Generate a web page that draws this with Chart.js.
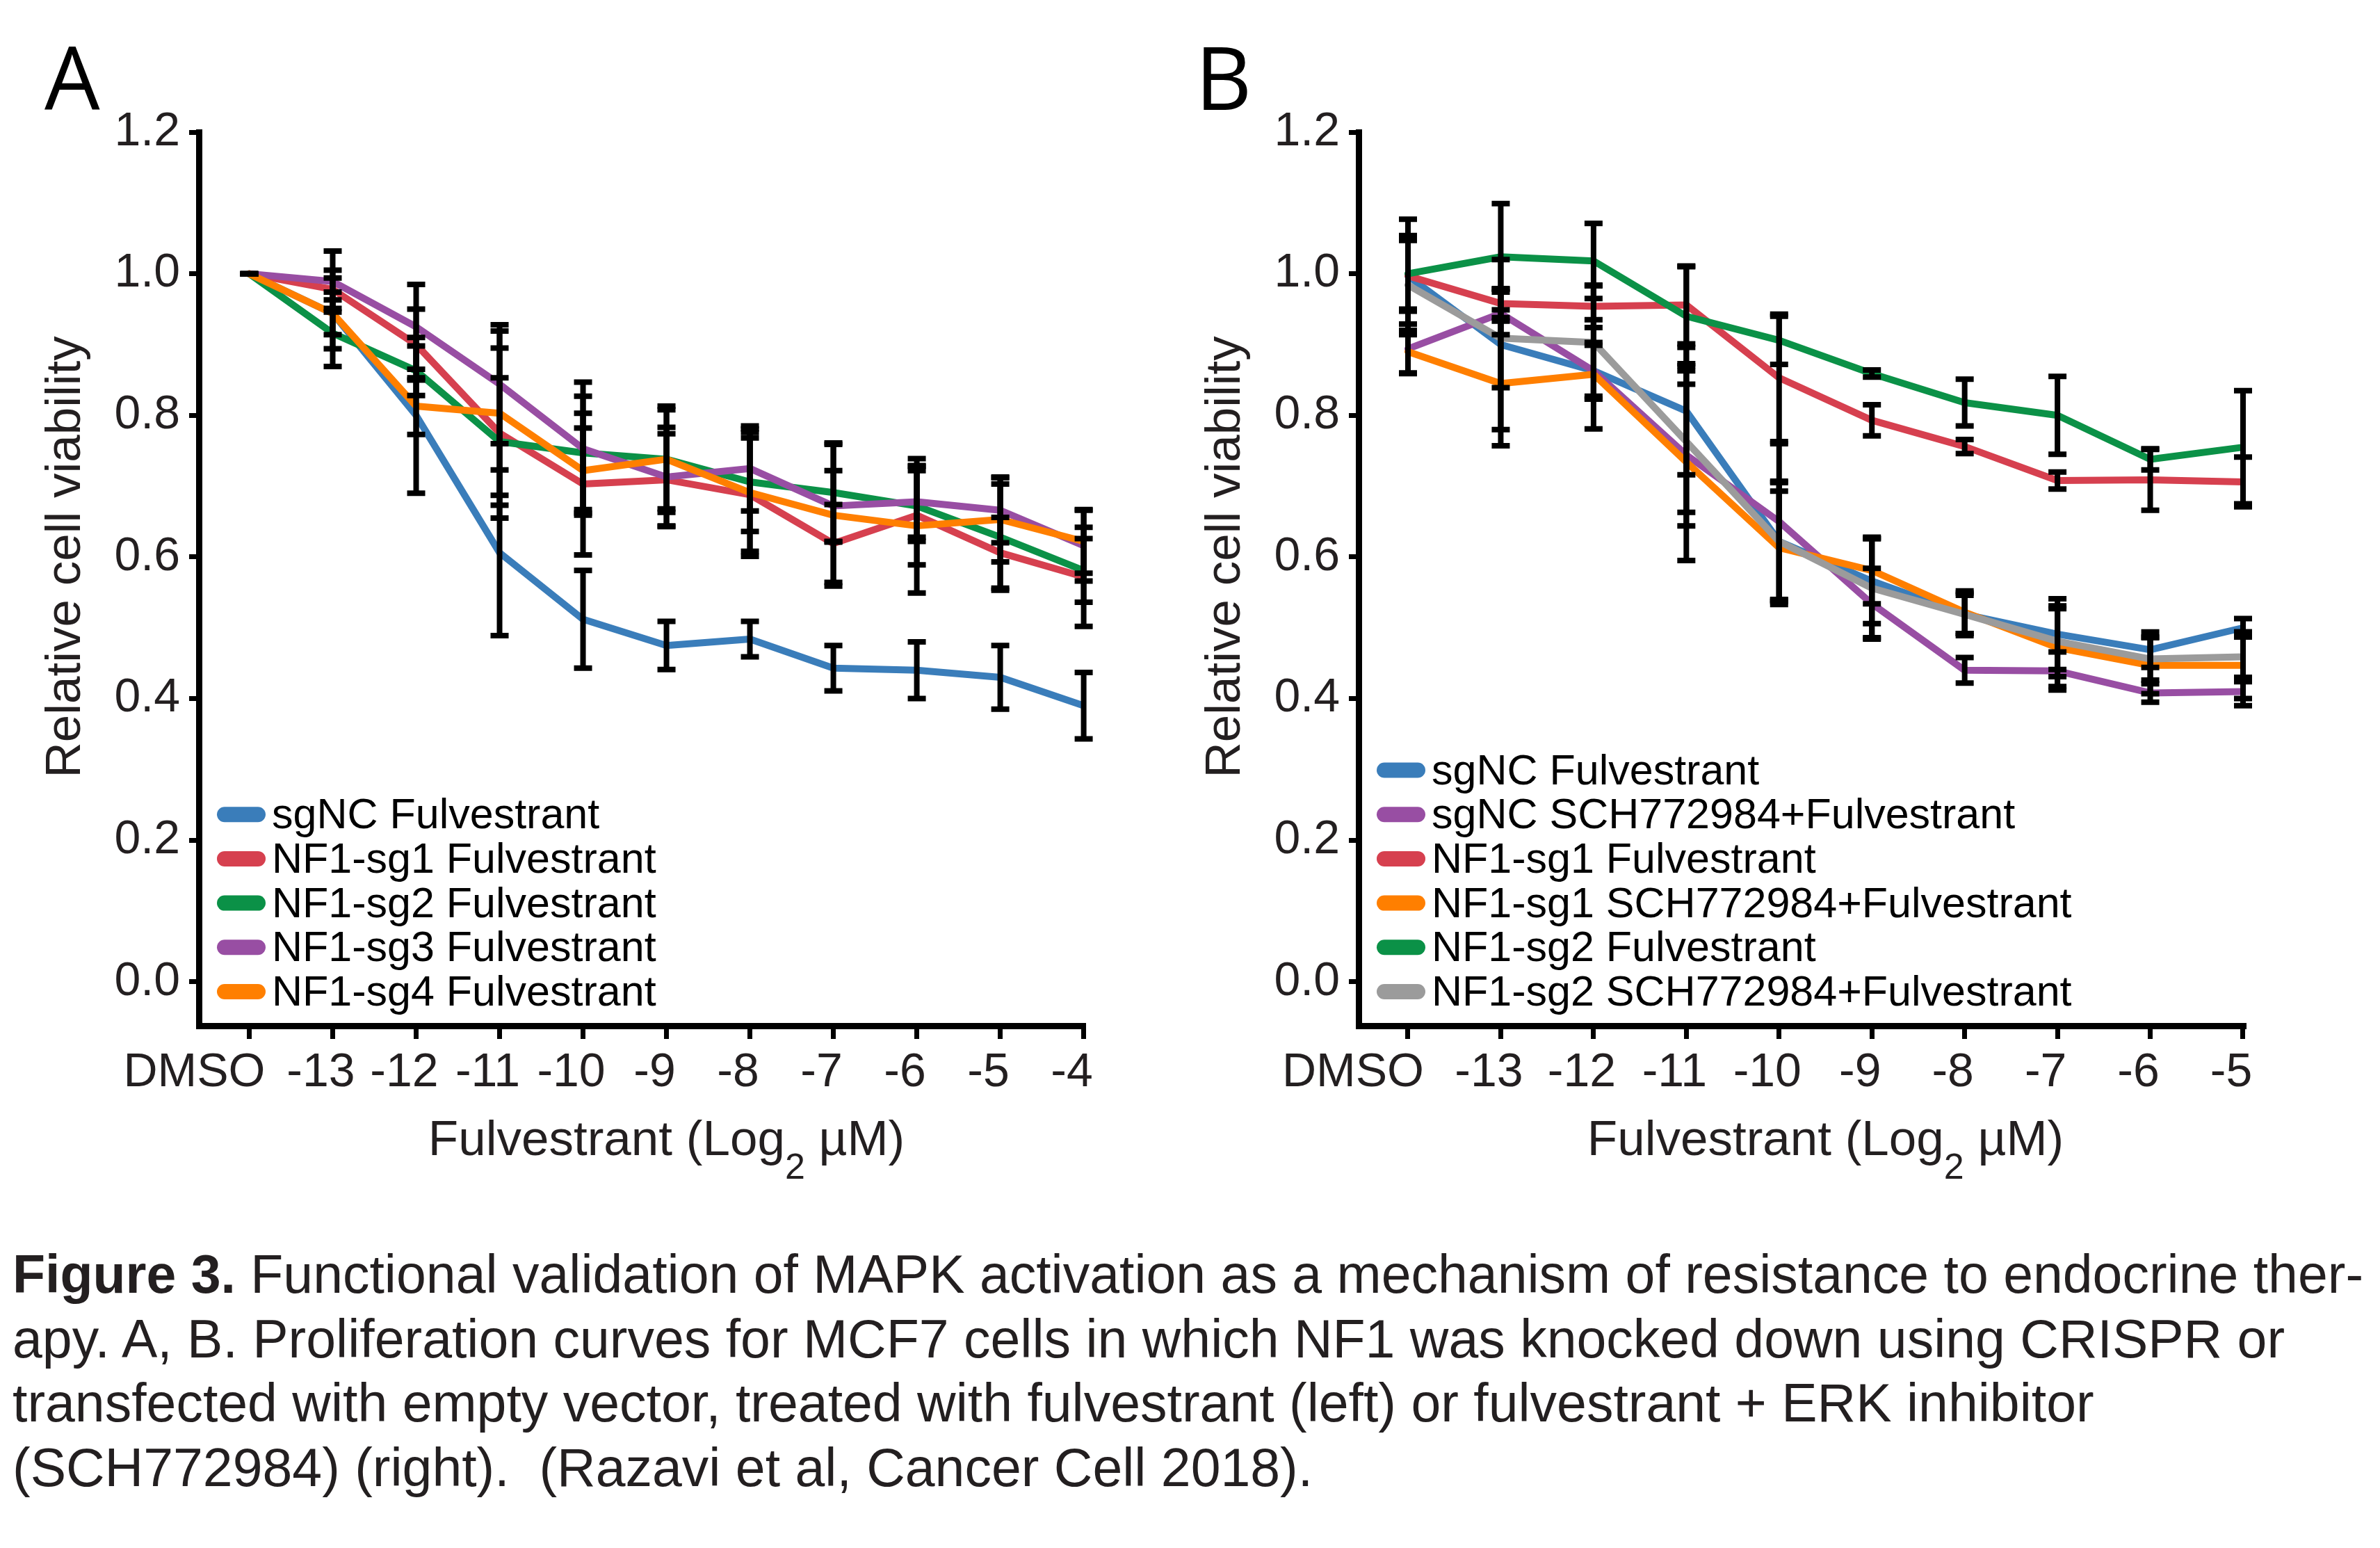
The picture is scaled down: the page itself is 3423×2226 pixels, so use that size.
<!DOCTYPE html>
<html><head><meta charset="utf-8">
<script src="https://cdn.jsdelivr.net/npm/chart.js@4.4.1/dist/chart.umd.min.js"></script>
<style>
html,body{margin:0;padding:0;background:#fff;}
body{width:3423px;height:2226px;position:relative;overflow:hidden;}
#wrapA{position:absolute;left:0;top:0;width:1700px;height:1750px;}
#wrapB{position:absolute;left:1700px;top:0;width:1723px;height:1750px;}
#caption{position:absolute;left:18px;top:1786px;font-family:"Liberation Sans",Arial,sans-serif;font-size:77px;line-height:92.5px;color:#231f20;white-space:nowrap;}
</style></head><body>
<div id="wrapA"><canvas id="chartA" width="1700" height="1750"></canvas></div>
<div id="wrapB"><canvas id="chartB" width="1723" height="1750"></canvas></div>
<div id="caption"><b>Figure 3.</b> Functional validation of MAPK activation as a mechanism of resistance to endocrine ther-<br>apy. A, B. Proliferation curves for MCF7 cells in which NF1 was knocked down using CRISPR or<br>transfected with empty vector, treated with fulvestrant (left) or fulvestrant + ERK inhibitor<br>(SCH772984) (right).&nbsp; (Razavi et al, Cancer Cell 2018).</div>
<script>
// ---------- DATA ----------
const concA = ['DMSO','-13','-12','-11','-10','-9','-8','-7','-6','-5','-4'];
const concB = ['DMSO','-13','-12','-11','-10','-9','-8','-7','-6','-5'];
const yTickValues = [0, 0.2, 0.4, 0.6, 0.8, 1.0, 1.2];

// Panel A
const labelsA = ['sgNC Fulvestrant','NF1-sg1 Fulvestrant','NF1-sg2 Fulvestrant','NF1-sg3 Fulvestrant','NF1-sg4 Fulvestrant'];
const a_sgNC     = [1.0, 0.944, 0.800, 0.606, 0.512, 0.475, 0.484, 0.443, 0.440, 0.430, 0.390];
const a_sgNC_err = [0, 0.030, 0.110, 0.117, 0.069, 0.034, 0.025, 0.032, 0.040, 0.045, 0.047];
const a_sg1      = [1.0, 0.978, 0.900, 0.775, 0.703, 0.709, 0.688, 0.619, 0.659, 0.606, 0.572];
const a_sg1_err  = [0, 0.027, 0.050, 0.120, 0.100, 0.065, 0.080, 0.055, 0.070, 0.050, 0.070];
const a_sg2      = [1.0, 0.916, 0.863, 0.763, 0.747, 0.738, 0.706, 0.691, 0.672, 0.628, 0.581];
const a_sg2_err  = [0, 0.047, 0.035, 0.090, 0.080, 0.075, 0.070, 0.070, 0.050, 0.075, 0.045];
const a_sg3      = [1.0, 0.989, 0.925, 0.844, 0.753, 0.713, 0.725, 0.672, 0.678, 0.666, 0.616];
const a_sg3_err  = [0, 0.043, 0.060, 0.084, 0.094, 0.070, 0.060, 0.050, 0.050, 0.046, 0.050];
const a_sg4      = [1.0, 0.944, 0.813, 0.803, 0.722, 0.738, 0.691, 0.659, 0.644, 0.653, 0.622];
const a_sg4_err  = [0, 0.050, 0.040, 0.116, 0.060, 0.070, 0.090, 0.100, 0.095, 0.060, 0.045];

// Panel B
const labelsB = ['sgNC Fulvestrant','sgNC SCH772984+Fulvestrant','NF1-sg1 Fulvestrant','NF1-sg1 SCH772984+Fulvestrant','NF1-sg2 Fulvestrant','NF1-sg2 SCH772984+Fulvestrant'];
const b_sgNC         = [0.997, 0.900, 0.863, 0.806, 0.622, 0.566, 0.519, 0.491, 0.469, 0.500];
const b_sgNC_err     = [0.050, 0.120, 0.040, 0.090, 0.085, 0.060, 0.027, 0.050, 0.025, 0.013];
const b_sgNC_SCH     = [0.894, 0.944, 0.863, 0.744, 0.650, 0.534, 0.440, 0.439, 0.408, 0.410];
const b_sgNC_SCH_err = [0.035, 0.030, 0.036, 0.100, 0.110, 0.050, 0.018, 0.027, 0.013, 0.020];
const b_sg1          = [0.997, 0.958, 0.954, 0.956, 0.853, 0.793, 0.756, 0.708, 0.709, 0.706];
const b_sg1_err      = [0.080, 0.020, 0.030, 0.055, 0.090, 0.022, 0.010, 0.012, 0.043, 0.035];
const b_sg1_SCH      = [0.890, 0.845, 0.858, 0.734, 0.613, 0.581, 0.522, 0.472, 0.447, 0.447];
const b_sg1_SCH_err  = [0.030, 0.088, 0.077, 0.139, 0.080, 0.047, 0.030, 0.055, 0.040, 0.047];
const b_sg2          = [1.000, 1.024, 1.018, 0.940, 0.906, 0.859, 0.818, 0.800, 0.738, 0.755];
const b_sg2_err      = [0.050, 0.075, 0.053, 0.070, 0.034, 0.005, 0.033, 0.055, 0.015, 0.080];
const b_sg2_SCH      = [0.984, 0.909, 0.903, 0.763, 0.622, 0.556, 0.519, 0.481, 0.456, 0.459];
const b_sg2_SCH_err  = [0.070, 0.070, 0.080, 0.100, 0.083, 0.070, 0.030, 0.050, 0.030, 0.035];

// ---------- STYLE ----------
const FONT = '"Liberation Sans", Arial, sans-serif';
const INK = '#231f20';
const C = { blue:'#3a7dba', red:'#d6404f', green:'#0b9147', purple:'#984ea3', orange:'#ff7f00', gray:'#9b9b9b' };

function mkDatasets(labels, vals, errs, colors) {
  const n = labels.length;
  return labels.map((lab, k) => ({
    label: lab,
    data: vals[k].map((v, i) => ({ x: i, y: v })),
    errs: errs[k],
    borderColor: colors[k],
    backgroundColor: colors[k],
    borderWidth: 10,
    borderJoinStyle: 'round',
    borderCapStyle: 'round',
    pointRadius: 0,
    tension: 0,
    order: n - k
  }));
}

function figurePlugin(p) {
  return {
    id: 'fig' + p.letter,
    afterDatasetsDraw(chart) {
      const xs = chart.scales.x, ys = chart.scales.y, ctx = chart.ctx;
      ctx.save();
      ctx.strokeStyle = '#000';
      ctx.lineWidth = 8;
      ctx.lineCap = 'butt';
      chart.data.datasets.forEach(ds => {
        ds.data.forEach((pt, i) => {
          const e = ds.errs[i];
          const x = xs.getPixelForValue(pt.x);
          const yt = ys.getPixelForValue(pt.y + e), yb = ys.getPixelForValue(pt.y - e);
          ctx.beginPath();
          if (e > 0) { ctx.moveTo(x, yt - 4); ctx.lineTo(x, yb + 4); }
          ctx.moveTo(x - 13, yt); ctx.lineTo(x + 13, yt);
          ctx.moveTo(x - 13, yb); ctx.lineTo(x + 13, yb);
          ctx.stroke();
        });
      });
      ctx.restore();
    },
    afterDraw(chart) {
      const xs = chart.scales.x, ys = chart.scales.y, ctx = chart.ctx, ca = chart.chartArea;
      ctx.save();
      ctx.fillStyle = INK;
      ctx.textBaseline = 'alphabetic';
      // x tick labels
      ctx.font = '68px ' + FONT;
      ctx.textAlign = 'center';
      p.cats.forEach((c, i) => {
        ctx.fillText(c, xs.getPixelForValue(i) + (i === 0 ? -79 : -17), ca.bottom + 87);
      });
      // x title with subscript
      const cx = (xs.getPixelForValue(0) + xs.getPixelForValue(p.cats.length - 1)) / 2;
      const t1 = 'Fulvestrant (Log', t2 = '2', t3 = ' \u00B5M)';
      ctx.font = '71px ' + FONT;
      const w1 = ctx.measureText(t1).width, w3 = ctx.measureText(t3).width;
      ctx.font = '52px ' + FONT;
      const w2 = ctx.measureText(t2).width;
      let sx = cx - (w1 + w2 + w3) / 2;
      const by = ca.bottom + 186;
      ctx.textAlign = 'left';
      ctx.font = '71px ' + FONT; ctx.fillText(t1, sx, by); sx += w1;
      ctx.font = '52px ' + FONT; ctx.fillText(t2, sx, by + 34); sx += w2;
      ctx.font = '71px ' + FONT; ctx.fillText(t3, sx, by);
      // y title
      const cy = (ys.getPixelForValue(0) + ys.getPixelForValue(1.2)) / 2;
      ctx.save();
      ctx.translate(ca.left - 171, cy);
      ctx.rotate(-Math.PI / 2);
      ctx.textAlign = 'center';
      ctx.font = '71px ' + FONT;
      ctx.fillText('Relative cell viability', 0, 0);
      ctx.restore();
      // legend
      const dsets = chart.data.datasets, n = dsets.length;
      ctx.font = '61px ' + FONT;
      ctx.textAlign = 'left';
      dsets.forEach((ds, k) => {
        const yc = ca.bottom - 49 - (n - 1 - k) * 63.7;
        const x0 = ca.left + 26;
        ctx.fillStyle = ds.borderColor;
        ctx.beginPath();
        ctx.roundRect(x0, yc - 11, 70, 22, 11);
        ctx.fill();
        ctx.fillStyle = '#000';
        ctx.fillText(ds.label, ca.left + 105, yc + 20);
      });
      // panel letter
      ctx.fillStyle = '#000';
      ctx.font = '126px "Open Sans", ' + FONT;
      ctx.fillText(p.letter, p.letterX, 158);
      ctx.restore();
    }
  };
}

function makeChart(id, p) {
  return new Chart(document.getElementById(id), {
    type: 'line',
    data: { datasets: p.datasets },
    options: {
      responsive: false,
      animation: false,
      devicePixelRatio: 1,
      layout: { padding: { left: 0, top: 190, right: p.padRight, bottom: 0 } },
      plugins: { legend: { display: false }, tooltip: { enabled: false }, title: { display: false } },
      scales: {
        x: {
          type: 'linear', min: p.xMin, max: p.xMax,
          afterBuildTicks: s => { s.ticks = p.cats.map((_, i) => ({ value: i })); },
          afterFit: s => { s.height = 275; },
          ticks: { display: false, autoSkip: false },
          grid: { display: true, drawOnChartArea: false, drawTicks: true, tickLength: 19, tickWidth: 7, tickColor: '#000' },
          border: { display: true, color: '#000', width: 9 }
        },
        y: {
          type: 'linear', min: -0.062, max: 1.2,
          afterBuildTicks: s => { s.ticks = yTickValues.map(v => ({ value: v })); },
          afterFit: s => { s.width = p.axisLeft; },
          ticks: { autoSkip: false, callback: v => Number(v).toFixed(1), font: { family: FONT, size: 68 }, color: INK, padding: 13 },
          grid: { display: true, drawOnChartArea: false, drawTicks: true, tickLength: 14, tickWidth: 7, tickColor: '#000' },
          border: { display: true, color: '#000', width: 9 }
        }
      }
    },
    plugins: [figurePlugin(p)]
  });
}

makeChart('chartA', {
  letter: 'A', letterX: 64, cats: concA, axisLeft: 286, padRight: 139, xMin: -0.604, xMax: 10.02,
  datasets: mkDatasets(labelsA,
    [a_sgNC, a_sg1, a_sg2, a_sg3, a_sg4],
    [a_sgNC_err, a_sg1_err, a_sg2_err, a_sg3_err, a_sg4_err],
    [C.blue, C.red, C.green, C.purple, C.orange])
});

makeChart('chartB', {
  letter: 'B', letterX: 19, cats: concB, axisLeft: 254, padRight: 193, xMin: -0.532, xMax: 9.03,
  datasets: mkDatasets(labelsB,
    [b_sgNC, b_sgNC_SCH, b_sg1, b_sg1_SCH, b_sg2, b_sg2_SCH],
    [b_sgNC_err, b_sgNC_SCH_err, b_sg1_err, b_sg1_SCH_err, b_sg2_err, b_sg2_SCH_err],
    [C.blue, C.purple, C.red, C.orange, C.green, C.gray])
});
</script>
</body></html>
